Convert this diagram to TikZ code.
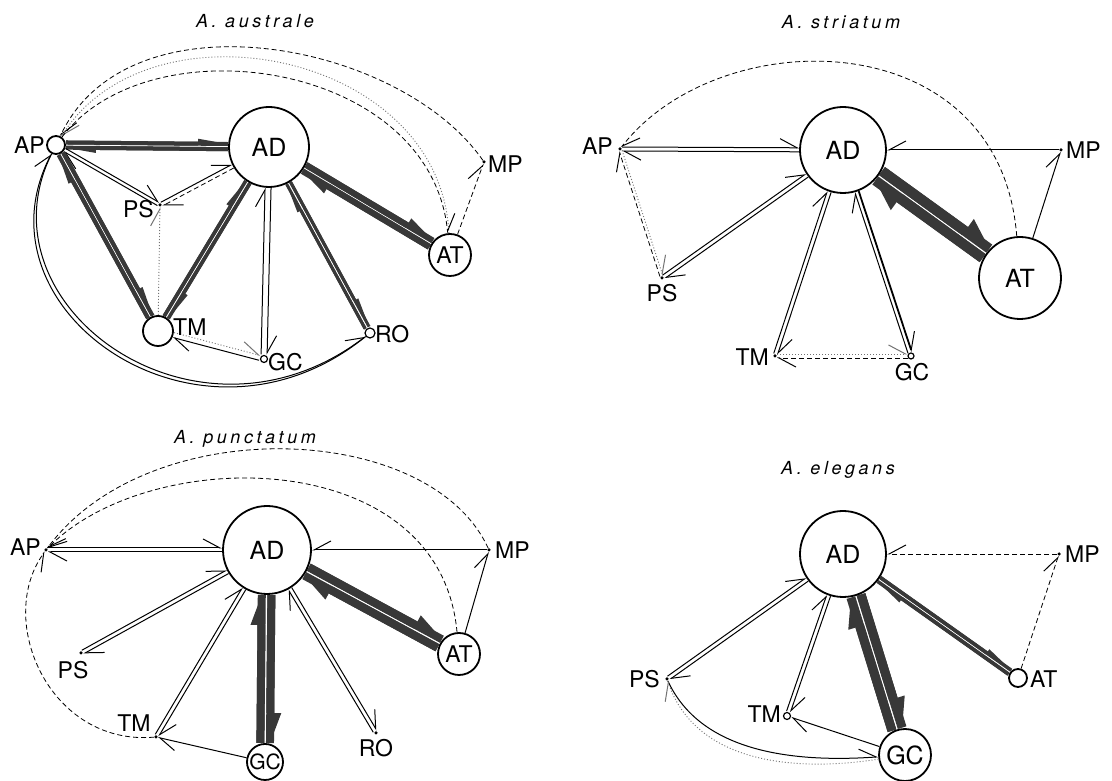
\documentclass[tikz,border=0pt]{standalone}
\usepackage{fontspec}
\setmainfont{TeX Gyre Heros}
\usetikzlibrary{calc,arrows.meta}
\pgfdeclarelayer{bg}\pgfsetlayers{bg,main}
\tikzset{
 x=1pt,y=1pt,
 big/.style={circle, draw, line width=1.8pt, fill=white, inner sep=0pt, minimum size=#1, font=\fontsize{25}{25}\selectfont},
 sml/.style={circle, draw, line width=1.2pt, fill=white, inner sep=0pt, minimum size=#1},
 dotn/.style={circle, fill=black, inner sep=0pt, minimum size=3.5pt},
 lab/.style={inner sep=1pt, font=\fontsize{23}{23}\selectfont},
 ttl/.style={font=\fontsize{18}{18}\selectfont\itshape\addfontfeature{LetterSpace=20}},
 ln/.style={line width=1pt},
 lnh/.style={line width=1.8pt},
 dsh/.style={line width=0.8pt, dash pattern=on 5pt off 3pt},
 dtt/.style={line width=0.9pt, dash pattern=on 1pt off 2pt, black!55},
 bl/.style={-{Straight Barb[harpoon, length=17pt, angle'=56, line width=1pt]}},
 br/.style={-{Straight Barb[harpoon, swap, length=17pt, angle'=56, line width=1pt]}},
 hv/.style={draw=black!78, line cap=butt},
}
\newcommand\EG[6]{\draw[#1,shorten <=#5,shorten >=#6] ($(#2)!#4!90:(#3)$) -- ($(#3)!#4!-90:(#2)$);}
\newcommand\HV[7]{%
 \draw[hv, line width=#1, shorten <=#6, shorten >=#7] ($(#3)!#5!90:(#4)$) -- ($(#4)!#5!-90:(#3)$);
 \draw[hv, line width=#1, shorten <=#6, shorten >=#7, -{Triangle[harpoon, length=30pt, width=#2, line width=0pt]}] ($(#3)!#5!90:(#4)$) -- ($(#4)!#5!-90:(#3)$);}
\begin{document}
\begin{tikzpicture}
\useasboundingbox (0,0) rectangle (1112,781);
\begin{pgfonlayer}{bg}\fill[white] (0,0) rectangle (1112,781);\end{pgfonlayer}
% ---------------- Panel 1: A. australe
\node[ttl] (p1t) at (255,760) {A. australe};
\node[big=18pt] (p1ap) at (56,636) {};
\node[big=80pt] (p1ad) at (269,634) {AD};
\node[dotn] (p1mp) at (484,619) {};
\node[big=42pt, font=\fontsize{23}{23}\selectfont] (p1at) at (450,526) {AT};
\node[dotn] (p1ps) at (160,576) {};
\node[big=30pt] (p1tm) at (158,450) {};
\node[sml=7pt] (p1gc) at (264,422) {};
\node[sml=10pt] (p1ro) at (370,448) {};
\node[lab, anchor=east] (p1apl) at (46,636) {AP};
\node[lab, anchor=west] (p1mpl) at (487,617) {MP};
\node[lab, anchor=east] (p1psl) at (155,572) {PS};
\node[lab, anchor=west] (p1tml) at (172,454) {TM};
\node[lab, anchor=west] (p1gcl) at (267,419) {GC};
\node[lab, anchor=west] (p1rol) at (374,447) {RO};
\begin{pgfonlayer}{bg}
\HV{4pt}{10pt}{p1ap}{p1ad}{2.6pt}{10pt}{41pt}
\HV{4pt}{10pt}{p1ad}{p1ap}{2.6pt}{41pt}{10pt}
\EG{ln,bl}{p1ap}{p1ps}{1.8pt}{10pt}{2pt}
\EG{ln,bl}{p1ps}{p1ap}{1.8pt}{2pt}{10pt}
\EG{ln,bl}{p1ps}{p1ad}{2pt}{2pt}{41pt}
\EG{dsh,bl}{p1ad}{p1ps}{2pt}{41pt}{2pt}
\EG{dtt,bl}{p1tm}{p1ps}{0pt}{16pt}{2pt}
\HV{4pt}{10pt}{p1ap}{p1tm}{2.6pt}{10pt}{16pt}
\HV{4pt}{10pt}{p1tm}{p1ap}{2.6pt}{16pt}{10pt}
\HV{3.5pt}{9pt}{p1tm}{p1ad}{2.4pt}{16pt}{41pt}
\HV{3.5pt}{9pt}{p1ad}{p1tm}{2.4pt}{41pt}{16pt}
\EG{ln,bl}{p1ad}{p1gc}{3pt}{41pt}{4.5pt}
\EG{ln,bl}{p1gc}{p1ad}{3pt}{4.5pt}{41pt}
\HV{3pt}{8pt}{p1ad}{p1ro}{2.2pt}{41pt}{6pt}
\HV{3pt}{8pt}{p1ro}{p1ad}{2.2pt}{6pt}{41pt}
\HV{6pt}{16pt}{p1ad}{p1at}{3.6pt}{41pt}{22pt}
\HV{6pt}{16pt}{p1at}{p1ad}{3.6pt}{22pt}{41pt}
\EG{ln,bl}{p1gc}{p1tm}{2.5pt}{4.5pt}{16pt}
\EG{dtt,bl}{p1tm}{p1gc}{2.5pt}{16pt}{4.5pt}
\EG{dsh,bl}{p1at}{p1mp}{0pt}{22pt}{2pt}
\draw[dsh,bl] (p1mp) .. controls (400,740) and (130,790) .. (p1ap);
\draw[dtt,bl] (p1at) .. controls (440,730) and (150,785) .. (p1ap);
\draw[dsh,bl] (p1ap) .. controls (150,760) and (430,720) .. (p1at);
\draw[ln,bl] (p1ro) .. controls (200,310) and (-30,470) .. (p1ap);
\draw[ln,bl] (p1ap) .. controls (-24,475) and (197,316) .. (p1ro);
\end{pgfonlayer}
% ---------------- Panel 2: A. striatum
\node[ttl] (p2t) at (841,759) {A. striatum};
\node[dotn] (p2ap) at (620,632) {};
\node[big=86pt] (p2ad) at (843,631) {AD};
\node[dotn] (p2mp) at (1061,631) {};
\node[big=82pt] (p2at) at (1020,503) {AT};
\node[dotn] (p2ps) at (662,503) {};
\node[dotn] (p2tm) at (775,425) {};
\node[sml=6pt] (p2gc) at (911,425) {};
\node[lab, anchor=east] (p2apl) at (614,635) {AP};
\node[lab, anchor=west] (p2mpl) at (1065,631) {MP};
\node[lab, anchor=north] (p2psl) at (662,498) {PS};
\node[lab, anchor=east] (p2tml) at (770,424) {TM};
\node[lab, anchor=north] (p2gcl) at (912,419) {GC};
\begin{pgfonlayer}{bg}
\EG{ln,bl}{p2ap}{p2ad}{2pt}{2pt}{44pt}
\EG{ln,bl}{p2ad}{p2ap}{2pt}{44pt}{2pt}
\EG{ln,bl}{p2ps}{p2ad}{2pt}{2pt}{44pt}
\EG{ln,bl}{p2ad}{p2ps}{2pt}{44pt}{2pt}
\EG{ln,bl}{p2tm}{p2ad}{2pt}{2pt}{44pt}
\EG{ln,bl}{p2ad}{p2tm}{2pt}{44pt}{2pt}
\EG{ln,bl}{p2gc}{p2ad}{2pt}{3.5pt}{44pt}
\EG{lnh,bl}{p2ad}{p2gc}{2pt}{44pt}{3.5pt}
\HV{10pt}{30pt}{p2ad}{p2at}{5.8pt}{44pt}{42pt}
\HV{10pt}{30pt}{p2at}{p2ad}{5.8pt}{42pt}{44pt}
\EG{ln,br}{p2mp}{p2ad}{0pt}{2pt}{44pt}
\EG{ln,bl}{p2at}{p2mp}{0pt}{42pt}{2pt}
\draw[dsh,bl] (p2at) .. controls (1000,760) and (720,760) .. (p2ap);
\EG{dsh,bl}{p2ps}{p2ap}{1.5pt}{2pt}{2pt}
\EG{dtt,bl}{p2ap}{p2ps}{1.5pt}{2pt}{2pt}
\EG{dtt,bl}{p2tm}{p2gc}{2pt}{2pt}{3.5pt}
\EG{dsh,bl}{p2gc}{p2tm}{2pt}{3.5pt}{2pt}
\end{pgfonlayer}
% ---------------- Panel 3: A. punctatum
\node[ttl] (p3t) at (245,342) {A. punctatum};
\node[dotn] (p3ap) at (46,231) {};
\node[big=88pt] (p3ad) at (267,231) {AD};
\node[dotn] (p3mp) at (489,231) {};
\node[big=42pt, font=\fontsize{23}{23}\selectfont] (p3at) at (459,127) {AT};
\node[dotn] (p3ps) at (81,128) {};
\node[dotn] (p3tm) at (156,44) {};
\node[big=36pt, font=\fontsize{21}{21}\selectfont] (p3gc) at (265,19) {GC};
\node[dotn] (p3ro) at (376,48) {};
\node[lab, anchor=east] (p3apl) at (42,234) {AP};
\node[lab, anchor=west] (p3mpl) at (494,231) {MP};
\node[lab] (p3psl) at (73,111) {PS};
\node[lab] (p3tml) at (134,58) {TM};
\node[lab] (p3rol) at (376,33) {RO};
\begin{pgfonlayer}{bg}
\EG{ln,bl}{p3ap}{p3ad}{2pt}{2pt}{45pt}
\EG{ln,bl}{p3ad}{p3ap}{2pt}{45pt}{2pt}
\EG{ln,bl}{p3ps}{p3ad}{2pt}{2pt}{45pt}
\EG{ln,bl}{p3ad}{p3ps}{2pt}{45pt}{2pt}
\EG{ln,bl}{p3tm}{p3ad}{2pt}{2pt}{45pt}
\EG{ln,bl}{p3ad}{p3tm}{2pt}{45pt}{2pt}
\HV{8pt}{22pt}{p3gc}{p3ad}{4.8pt}{19pt}{45pt}
\HV{8pt}{22pt}{p3ad}{p3gc}{4.8pt}{45pt}{19pt}
\EG{ln,bl}{p3ro}{p3ad}{2pt}{2pt}{45pt}
\EG{ln,bl}{p3ad}{p3ro}{2pt}{45pt}{2pt}
\HV{8pt}{22pt}{p3ad}{p3at}{4.8pt}{45pt}{22pt}
\HV{8pt}{22pt}{p3at}{p3ad}{4.8pt}{22pt}{45pt}
\EG{ln,br}{p3mp}{p3ad}{0pt}{2pt}{45pt}
\EG{ln,bl}{p3at}{p3mp}{0pt}{22pt}{2pt}
\EG{ln,bl}{p3gc}{p3tm}{0pt}{19pt}{2pt}
\draw[dsh,bl] (p3at) .. controls (440,337) and (150,337) .. (p3ap);
\draw[dsh,bl] (p3mp) .. controls (430,360) and (150,370) .. (p3ap);
\draw[dsh,br] (p3tm) .. controls (50,35) and (-5,160) .. (p3ap);
\end{pgfonlayer}
% ---------------- Panel 4: A. elegans
\node[ttl] (p4t) at (838,311) {A. elegans};
\node[big=86pt] (p4ad) at (843,227) {AD};
\node[dotn] (p4mp) at (1059,227) {};
\node[big=18pt] (p4at) at (1018,103) {};
\node[dotn] (p4ps) at (667,102) {};
\node[sml=7pt] (p4tm) at (787,65) {};
\node[big=52pt] (p4gc) at (905,26) {GC};
\node[lab, anchor=west] (p4mpl) at (1064,227) {MP};
\node[lab, anchor=west] (p4atl) at (1029,102) {AT};
\node[lab, anchor=east] (p4psl) at (661,102) {PS};
\node[lab, anchor=east] (p4tml) at (782,67) {TM};
\begin{pgfonlayer}{bg}
\EG{ln,bl}{p4ps}{p4ad}{2pt}{2pt}{44pt}
\EG{ln,bl}{p4ad}{p4ps}{2pt}{44pt}{2pt}
\EG{ln,bl}{p4tm}{p4ad}{2pt}{4.5pt}{44pt}
\EG{ln,bl}{p4ad}{p4tm}{2pt}{44pt}{4.5pt}
\HV{9pt}{24pt}{p4gc}{p4ad}{5.3pt}{27pt}{44pt}
\HV{9pt}{24pt}{p4ad}{p4gc}{5.3pt}{44pt}{27pt}
\HV{3.5pt}{9pt}{p4ad}{p4at}{2.4pt}{44pt}{10pt}
\HV{3.5pt}{9pt}{p4at}{p4ad}{2.4pt}{10pt}{44pt}
\EG{dsh,br}{p4mp}{p4ad}{0pt}{2pt}{44pt}
\EG{dsh,bl}{p4at}{p4mp}{0pt}{10pt}{2pt}
\EG{ln,bl}{p4gc}{p4tm}{0pt}{27pt}{4.5pt}
\draw[ln,bl] (p4ps) .. controls (700,30) and (790,18) .. (p4gc);
\draw[dtt,bl] (p4gc) .. controls (790,8) and (695,20) .. (p4ps);
\end{pgfonlayer}
\end{tikzpicture}
\end{document}
